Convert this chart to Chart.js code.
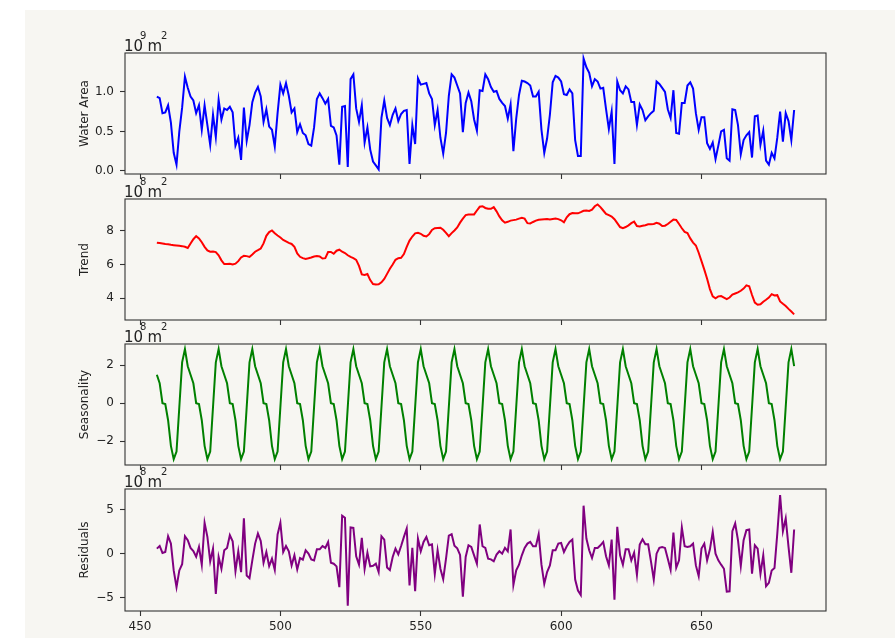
<!DOCTYPE html>
<html><head><meta charset="utf-8">
<script src="https://cdn.jsdelivr.net/npm/chart.js@4.4.1/dist/chart.umd.min.js"></script>
<style>
html,body{margin:0;padding:0;background:#fff;}
#wrap{position:relative;width:895px;height:638px;overflow:hidden;background:#fff;}
#bg{position:absolute;left:25px;top:10px;width:870px;height:628px;background:#f7f6f2;}
canvas{position:absolute;left:0;}
</style></head><body>
<div id="wrap"><div id="bg"></div>
<canvas id="c1"></canvas><canvas id="c2"></canvas><canvas id="c3"></canvas><canvas id="c4"></canvas>
</div>
<script>
// ---- data (x positions run from xStart, one per step) ----
const xStart = 456;
const xTicks = [450, 500, 550, 600, 650];

// observed water area, 10^9 m^2
const waterArea = [
0.94,0.92,0.73,0.74,0.83,0.61,0.23,0.08,0.50,0.80,1.19,1.05,
0.94,0.89,0.73,0.83,0.52,0.83,0.58,0.33,0.71,0.43,0.90,0.65,
0.79,0.77,0.81,0.74,0.32,0.42,0.14,0.80,0.38,0.58,0.87,0.99,
1.06,0.94,0.62,0.78,0.56,0.52,0.31,0.73,1.09,0.98,1.11,0.95,
0.74,0.79,0.49,0.59,0.48,0.45,0.34,0.32,0.55,0.91,0.98,0.92,
0.85,0.91,0.57,0.55,0.45,0.08,0.81,0.82,0.05,1.16,1.22,0.79,
0.62,0.83,0.36,0.55,0.27,0.12,0.07,0.02,0.67,0.89,0.67,0.58,
0.71,0.79,0.63,0.72,0.76,0.77,0.09,0.58,0.34,1.17,1.09,1.10,
1.11,0.98,0.91,0.58,0.77,0.42,0.22,0.48,0.95,1.22,1.18,1.08,
0.98,0.49,0.86,0.99,0.88,0.65,0.51,1.02,1.01,1.22,1.16,1.06,
1.00,1.01,0.91,0.86,0.82,0.66,0.84,0.25,0.66,0.96,1.14,1.13,
1.11,1.08,0.94,0.94,1.00,0.52,0.23,0.41,0.71,1.12,1.20,1.18,
1.13,0.97,0.96,1.03,0.98,0.39,0.19,0.19,1.42,1.31,1.24,1.07,
1.16,1.13,1.04,1.05,0.78,0.53,0.75,0.09,1.13,1.02,0.98,1.07,
1.03,0.87,0.87,0.58,0.84,0.77,0.64,0.69,0.73,0.76,1.13,1.10,
1.05,1.00,0.78,0.67,1.02,0.48,0.47,0.86,0.86,1.08,1.12,1.04,
0.73,0.52,0.68,0.68,0.35,0.28,0.36,0.15,0.32,0.50,0.52,0.16,
0.13,0.78,0.77,0.58,0.21,0.39,0.45,0.49,0.17,0.69,0.70,0.33,
0.51,0.13,0.08,0.23,0.16,0.42,0.75,0.37,0.73,0.63,0.39,0.77
];

// trend, 10^8 m^2
const trend = [
7.29,7.27,7.25,7.22,7.20,7.17,7.15,7.13,7.11,7.09,7.05,6.98,
7.25,7.50,7.68,7.55,7.32,7.05,6.84,6.76,6.77,6.74,6.55,6.25,
6.03,6.04,6.05,6.00,6.05,6.20,6.42,6.52,6.50,6.45,6.60,6.76,
6.85,6.95,7.25,7.70,7.92,8.02,7.85,7.72,7.60,7.46,7.37,7.28,
7.22,7.05,6.66,6.46,6.38,6.33,6.37,6.42,6.48,6.50,6.48,6.36,
6.38,6.74,6.75,6.64,6.82,6.88,6.76,6.68,6.55,6.45,6.38,6.28,
5.92,5.42,5.38,5.44,5.08,4.85,4.82,4.83,4.95,5.15,5.45,5.75,
6.00,6.28,6.38,6.40,6.62,7.05,7.42,7.66,7.85,7.88,7.82,7.70,
7.66,7.80,8.05,8.15,8.17,8.18,8.06,7.88,7.68,7.86,8.02,8.20,
8.48,8.72,8.93,8.96,8.97,8.97,9.20,9.42,9.45,9.35,9.30,9.30,
9.40,9.15,8.85,8.62,8.48,8.53,8.60,8.63,8.66,8.72,8.77,8.72,
8.45,8.43,8.52,8.60,8.65,8.67,8.68,8.69,8.67,8.70,8.73,8.69,
8.62,8.50,8.80,8.98,9.05,9.03,9.03,9.10,9.18,9.20,9.17,9.25,
9.45,9.56,9.40,9.20,9.00,8.92,8.84,8.68,8.45,8.22,8.16,8.22,
8.32,8.45,8.54,8.28,8.26,8.30,8.33,8.38,8.39,8.40,8.47,8.42,
8.28,8.30,8.40,8.53,8.66,8.64,8.40,8.15,7.93,7.86,7.55,7.30,
7.13,6.70,6.20,5.70,5.16,4.55,4.12,4.00,4.12,4.14,4.05,3.96,
4.05,4.22,4.29,4.35,4.45,4.58,4.77,4.72,4.20,3.75,3.62,3.65,
3.80,3.92,4.05,4.25,4.17,4.19,3.82,3.68,3.55,3.38,3.22,3.05
];

// seasonality, 10^8 m^2
const seasonality = [
1.5,1.05,0.0,-0.05,-0.9,-2.25,-2.95,-2.55,-0.2,2.15,2.85,1.95,
1.5,1.05,0.0,-0.05,-0.9,-2.25,-2.95,-2.55,-0.2,2.15,2.85,1.95,
1.5,1.05,0.0,-0.05,-0.9,-2.25,-2.95,-2.55,-0.2,2.15,2.85,1.95,
1.5,1.05,0.0,-0.05,-0.9,-2.25,-2.95,-2.55,-0.2,2.15,2.85,1.95,
1.5,1.05,0.0,-0.05,-0.9,-2.25,-2.95,-2.55,-0.2,2.15,2.85,1.95,
1.5,1.05,0.0,-0.05,-0.9,-2.25,-2.95,-2.55,-0.2,2.15,2.85,1.95,
1.5,1.05,0.0,-0.05,-0.9,-2.25,-2.95,-2.55,-0.2,2.15,2.85,1.95,
1.5,1.05,0.0,-0.05,-0.9,-2.25,-2.95,-2.55,-0.2,2.15,2.85,1.95,
1.5,1.05,0.0,-0.05,-0.9,-2.25,-2.95,-2.55,-0.2,2.15,2.85,1.95,
1.5,1.05,0.0,-0.05,-0.9,-2.25,-2.95,-2.55,-0.2,2.15,2.85,1.95,
1.5,1.05,0.0,-0.05,-0.9,-2.25,-2.95,-2.55,-0.2,2.15,2.85,1.95,
1.5,1.05,0.0,-0.05,-0.9,-2.25,-2.95,-2.55,-0.2,2.15,2.85,1.95,
1.5,1.05,0.0,-0.05,-0.9,-2.25,-2.95,-2.55,-0.2,2.15,2.85,1.95,
1.5,1.05,0.0,-0.05,-0.9,-2.25,-2.95,-2.55,-0.2,2.15,2.85,1.95,
1.5,1.05,0.0,-0.05,-0.9,-2.25,-2.95,-2.55,-0.2,2.15,2.85,1.95,
1.5,1.05,0.0,-0.05,-0.9,-2.25,-2.95,-2.55,-0.2,2.15,2.85,1.95,
1.5,1.05,0.0,-0.05,-0.9,-2.25,-2.95,-2.55,-0.2,2.15,2.85,1.95,
1.5,1.05,0.0,-0.05,-0.9,-2.25,-2.95,-2.55,-0.2,2.15,2.85,1.95,
1.5,1.05,0.0,-0.05,-0.9,-2.25,-2.95,-2.55,-0.2,2.15,2.85,1.95
];

// residuals, 10^8 m^2
const residuals = [
0.57,0.87,0.08,0.19,1.98,1.14,-1.9,-3.8,-1.9,-1.2,1.98,1.52,
0.65,0.3,-0.34,0.76,-1.25,3.5,1.9,-0.87,0.57,-4.56,-0.38,-1.71,
0.38,0.65,2.09,1.4,-1.98,0.27,-2.09,4.0,-2.47,-2.78,-0.76,1.14,
2.28,1.44,-1.03,0.19,-1.41,-0.57,-1.83,2.17,3.5,0.19,0.87,0.27,
-1.33,-0.19,-1.79,-0.49,-0.68,0.38,0.0,-0.65,-0.76,0.49,0.49,0.87,
0.65,1.33,-1.03,-1.14,-1.44,-3.8,4.3,4.07,-5.89,2.97,2.93,-0.3,
-1.25,1.79,-1.75,0.11,-1.44,-1.37,-1.14,-2.09,1.98,1.6,-1.56,-1.86,
-0.38,0.57,-0.08,0.87,1.9,2.85,-3.61,0.65,-4.26,1.71,0.27,1.33,
1.9,0.95,1.06,-2.32,0.38,-1.71,-2.89,-0.57,2.05,2.2,0.9,0.6,
-0.15,-4.87,-0.38,0.95,0.76,-0.19,-1.14,3.31,0.84,0.65,-0.57,-0.65,
-0.87,-0.11,0.27,0.0,0.65,0.27,2.74,-3.54,-1.9,-1.25,-0.19,0.65,
1.14,1.33,0.84,0.84,2.2,-1.25,-3.42,-2.09,-1.33,0.38,0.38,1.14,
1.22,0.19,0.84,1.33,1.6,-2.93,-4.18,-4.68,5.44,1.71,0.38,-0.49,
0.65,0.65,0.95,1.33,-0.3,-1.33,1.6,-5.21,3.04,-0.19,-1.25,0.49,
0.49,-0.76,0.11,-2.4,1.03,1.63,1.06,1.06,-0.87,-2.93,0.0,0.65,
0.76,0.65,-0.57,-1.83,2.4,-1.6,-0.76,2.97,0.84,0.76,0.84,1.14,
-1.33,-2.55,0.57,1.14,-0.76,0.49,2.47,0.0,-0.76,-1.25,-1.71,-4.3,
-4.26,2.55,3.42,1.52,-1.41,1.52,2.66,2.74,-2.28,0.95,0.57,-2.28,
-0.19,-3.69,-3.31,-1.9,-1.63,2.28,6.65,2.55,3.99,0.76,-2.17,2.74
];

const waterTicks = [0.0, 0.5, 1.0];
const trendTicks = [4, 6, 8];
const seasonTicks = [-2, 0, 2];
const residTicks = [-5, 0, 5];

// ---- drawing ----
const FONT = 'DejaVu Sans';
const TXT = '#222';
const EDGE = '#333';

const framePlugin = {
  id: 'frame',
  afterDraw(chart, args, opts) {
    const {ctx, chartArea: a} = chart;
    ctx.save();
    ctx.strokeStyle = EDGE; ctx.lineWidth = 1.1;
    ctx.strokeRect(a.left, a.top, a.right - a.left, a.bottom - a.top);
    ctx.fillStyle = TXT; ctx.textAlign = 'left'; ctx.textBaseline = 'alphabetic';
    ctx.font = '15px "' + FONT + '"';
    ctx.fillText('10', 124, a.top - 2.5);
    ctx.fillText('m', 147.5, a.top - 2.5);
    ctx.font = '10px "' + FONT + '"';
    ctx.fillText(opts.exp, 140, a.top - 14.5);
    ctx.fillText('2', 161, a.top - 14.5);
    ctx.restore();
  }
};

const minus = v => (v < 0 ? '\u2212' + Math.abs(v) : String(v));

function makeChart(id, frameTop, frameH, bottomH, values, color, yMin, yMax, yTicks, fmt, title, exp, showX) {
  const cv = document.getElementById(id);
  const H = 40 + frameH + bottomH;
  cv.width = 895; cv.height = H;
  cv.style.width = '895px'; cv.style.height = H + 'px';
  cv.style.top = (frameTop - 40) + 'px';
  const pts = values.map((v, i) => ({x: xStart + i, y: v}));
  const tickGrid = {display: true, drawOnChartArea: false, drawTicks: true, tickLength: 5, tickColor: EDGE, tickWidth: 1.1};
  return new Chart(cv, {
    type: 'line',
    data: {datasets: [{data: pts, borderColor: color, borderWidth: 2, pointRadius: 0, fill: false, tension: 0}]},
    options: {
      responsive: false, animation: false, devicePixelRatio: 1,
      layout: {padding: {top: 40, left: 0, right: 69, bottom: 0}},
      plugins: {legend: {display: false}, tooltip: {enabled: false}, frame: {exp: exp}},
      scales: {
        x: {
          type: 'linear', min: 444.65, max: 694.35,
          afterBuildTicks: s => { s.ticks = xTicks.map(v => ({value: v})); },
          afterFit: s => { s.height = bottomH; },
          grid: tickGrid, border: {display: false},
          ticks: {display: showX, color: TXT, font: {family: FONT, size: 12}, padding: 4, maxRotation: 0, autoSkip: false, callback: v => String(v)}
        },
        y: {
          type: 'linear', min: yMin, max: yMax,
          afterBuildTicks: s => { s.ticks = yTicks.map(v => ({value: v})); },
          afterFit: s => { s.width = 125; },
          grid: tickGrid, border: {display: false},
          ticks: {color: TXT, font: {family: FONT, size: 12}, padding: 6, autoSkip: false, callback: fmt},
          title: {display: true, text: title, color: TXT, font: {family: FONT, size: 12}, padding: {top: 77.8, bottom: 0}}
        }
      }
    },
    plugins: [framePlugin]
  });
}

makeChart('c1', 53, 121, 22, waterArea, '#0000ff', -0.038, 1.49, waterTicks, v => v.toFixed(1), 'Water Area', '9', false);
makeChart('c2', 199, 121, 22, trend, '#ff0000', 2.72, 9.88, trendTicks, minus, 'Trend', '8', false);
makeChart('c3', 344, 121, 22, seasonality, '#008000', -3.26, 3.12, seasonTicks, minus, 'Seasonality', '8', false);
makeChart('c4', 489, 122, 27, residuals, '#800080', -6.5, 7.33, residTicks, minus, 'Residuals', '8', true);
</script>
</body></html>
